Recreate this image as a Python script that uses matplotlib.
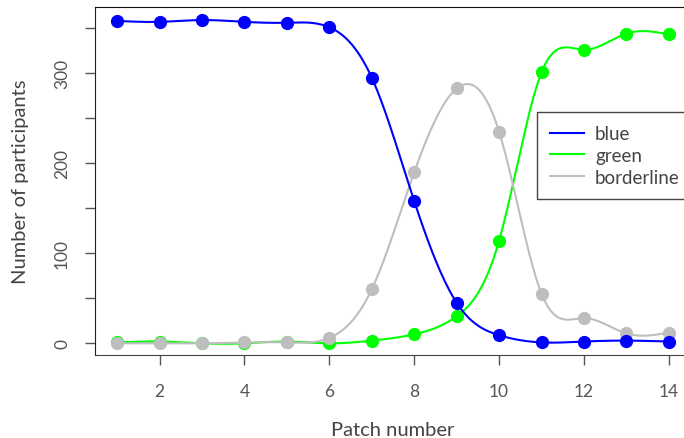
import numpy as np
import matplotlib
matplotlib.use('Agg')
import matplotlib.pyplot as plt

patch = [1, 2, 3, 4, 5, 6, 7, 8, 9, 10, 11, 12, 13, 14]
blue = [358, 357, 359, 357, 356, 351, 295, 158, 45, 9, 1, 2, 3, 2]
green = [1, 2, 0, 0, 2, 0, 3, 10, 30, 114, 301, 326, 344, 343]
borderline = [0, 0, 0, 1, 1, 6, 60, 190, 283, 235, 55, 28, 11, 12]

x_ticks = [2, 4, 6, 8, 10, 12, 14]
y_ticks = [0, 50, 100, 150, 200, 250, 300, 350]
y_labels = ['0', '', '100', '', '200', '', '300', '']

plt.rcParams['font.family'] = ['Lato', 'DejaVu Sans']


def spline_curve(x, y, n=400):
    # natural cubic spline, like R's spline() used for the smooth lines
    x = np.asarray(x, float)
    y = np.asarray(y, float)
    k = len(x)
    h = np.diff(x)
    A = np.zeros((k, k))
    r = np.zeros(k)
    A[0, 0] = A[-1, -1] = 1
    for i in range(1, k - 1):
        A[i, i - 1] = h[i - 1]
        A[i, i] = 2 * (h[i - 1] + h[i])
        A[i, i + 1] = h[i]
        r[i] = 6 * ((y[i + 1] - y[i]) / h[i] - (y[i] - y[i - 1]) / h[i - 1])
    M = np.linalg.solve(A, r)
    xs = np.linspace(x[0], x[-1], n)
    idx = np.clip(np.searchsorted(x, xs) - 1, 0, k - 2)
    x0, x1 = x[idx], x[idx + 1]
    hh = x1 - x0
    a = (x1 - xs) / hh
    b = (xs - x0) / hh
    ys = a * y[idx] + b * y[idx + 1] + ((a**3 - a) * M[idx] + (b**3 - b) * M[idx + 1]) * hh**2 / 6
    return xs, ys


fig = plt.figure(figsize=(6.84, 4.39), dpi=100)
ax = fig.add_axes([0.1389, 0.189, 0.8713, 0.7928])

series = [('green', green, '#00FF00'), ('borderline', borderline, '#BEBEBE'),
          ('blue', blue, '#0000FF')]
handles = {}
for name, vals, col in series:
    xs, ys = spline_curve(patch, vals)
    ln, = ax.plot(xs, ys, '-', color=col, lw=1.5)
    ax.plot(patch, vals, 'o', color=col, ms=8.5, mec=col)
    handles[name] = ln

ax.set_xlim(0.48, 14.52)
ax.set_ylim(-13, 373.5)
ax.set_xticks(x_ticks)
ax.set_yticks(y_ticks)
ax.set_yticklabels(y_labels, rotation=90, va='center')
ax.tick_params(axis='both', colors='#555555', labelcolor='#555555',
               labelsize=12.5, length=7, width=1)
ax.tick_params(axis='x', pad=13)
ax.tick_params(axis='y', pad=11)
ax.spines['left'].set_color('#222222')
ax.spines['top'].set_color('#111111')
ax.spines['bottom'].set_color('#444444')
ax.spines['right'].set_visible(False)
ax.set_xlabel('Patch number', fontsize=14.5, color='#444444', labelpad=16)
ax.set_ylabel('Number of participants', fontsize=14.5, color='#444444', labelpad=18)

leg = ax.legend([handles['blue'], handles['green'], handles['borderline']],
                ['blue', 'green', 'borderline'],
                loc='upper left', bbox_to_anchor=(0.7416, 0.698),
                fontsize=13.5, fancybox=False, framealpha=1,
                edgecolor='#444444', handlelength=1.8, borderpad=0.7,
                labelspacing=0.25, handletextpad=0.6, borderaxespad=0)
for t in leg.get_texts():
    t.set_color('#444444')
leg.get_frame().set_linewidth(1.0)

fig.savefig('out.png', dpi=100)
